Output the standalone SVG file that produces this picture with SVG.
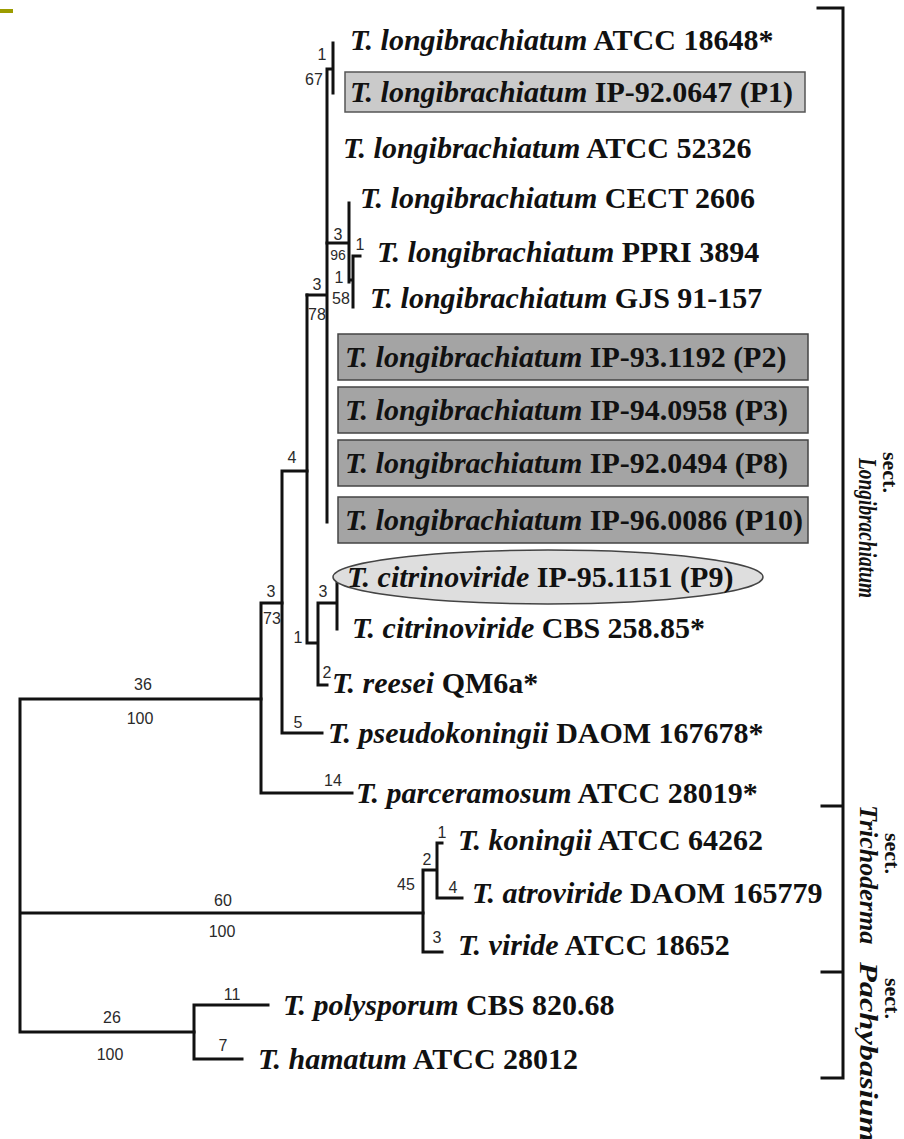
<svg xmlns="http://www.w3.org/2000/svg" width="904" height="1139" viewBox="0 0 904 1139">
<style>
.ln{fill:none;stroke:#111;stroke-width:3;stroke-linecap:square}
.lbl{font-family:"Liberation Serif","Times New Roman",serif;font-size:30px;font-weight:bold;fill:#111}
.it{font-style:italic}
.num{font-family:"Liberation Sans",Arial,sans-serif;font-size:16px;fill:#2a2a2a}
.sect{font-family:"Liberation Serif","Times New Roman",serif;font-size:26px;font-weight:bold;fill:#111}
.sw{font-size:22px}
.box1{fill:#cacaca;stroke:#555;stroke-width:1.5}
.box2{fill:#a4a4a4;stroke:#444;stroke-width:1.5}
.ell{fill:#dedede;stroke:#444;stroke-width:1.5}
</style>
<rect x="0" y="0" width="904" height="1139" fill="#ffffff"/>
<rect x="0" y="9" width="13" height="4" fill="#9c9c00"/>
<g id="connectors" class="ln">
<path d="M20,699 V1032 M20,699 H261 M20,913 H423 M20,1032 H194"/>
<path d="M261,603 V793 M261,793 H352 M261,603 H282"/>
<path d="M282,471 V733 M282,733 H322 M282,471 H307"/>
<path d="M307,295 V643 M307,643 H318 M318,603 V685 M318,685 H327 M318,603 H337 M337,577 V629"/>
<path d="M307,295 H327 M327,69 V522 M327,69 H333 M333,43 V93"/>
<path d="M327,243 H349 M349,203 V282 M349,280 H353 M353,256 V307 M353,256 H360"/>
<path d="M423,870 V952 M423,870 H437 M423,952 H442 M437,843 V898 M437,843 H442 M437,898 H462"/>
<path d="M194,1005 V1059 M194,1005 H268 M194,1059 H242"/>
</g>
<g id="branch-labels" class="num" text-anchor="middle">
<text x="322" y="60">1</text><text x="314" y="85">67</text>
<text x="338" y="240">3</text><text x="338" y="260" font-size="14">96</text>
<text x="360" y="250">1</text>
<text x="339" y="283">1</text><text x="341" y="304">58</text>
<text x="317" y="290">3</text><text x="317" y="320">78</text>
<text x="292" y="463">4</text>
<text x="271" y="597">3</text><text x="272" y="624">73</text>
<text x="323" y="597">3</text>
<text x="298" y="643">1</text>
<text x="327" y="678">2</text>
<text x="298" y="728">5</text>
<text x="333" y="786">14</text>
<text x="143" y="690">36</text><text x="140" y="724">100</text>
<text x="223" y="906">60</text><text x="222" y="937">100</text>
<text x="112" y="1023">26</text><text x="110" y="1060">100</text>
<text x="232" y="1000">11</text><text x="223" y="1051">7</text>
<text x="442" y="838">1</text><text x="427" y="865">2</text>
<text x="406" y="890">45</text><text x="453" y="893">4</text>
<text x="437" y="943">3</text>
</g>
<g id="leaf-atcc18648"><text class="lbl" x="350" y="50"><tspan class="it">T. longibrachiatum</tspan> ATCC 18648*</text></g>
<g id="leaf-p1"><rect class="box1" x="345" y="72" width="460" height="40"/><text class="lbl" x="350" y="102"><tspan class="it">T. longibrachiatum</tspan> IP-92.0647 (P1)</text></g>
<g id="leaf-atcc52326"><text class="lbl" x="343" y="158"><tspan class="it">T. longibrachiatum</tspan> ATCC 52326</text></g>
<g id="leaf-cect2606"><text class="lbl" x="360" y="208"><tspan class="it">T. longibrachiatum</tspan> CECT 2606</text></g>
<g id="leaf-ppri3894"><text class="lbl" x="377" y="262"><tspan class="it">T. longibrachiatum</tspan> PPRI 3894</text></g>
<g id="leaf-gjs91157"><text class="lbl" x="370" y="308"><tspan class="it">T. longibrachiatum</tspan> GJS 91-157</text></g>
<g id="leaf-p2"><rect class="box2" x="338" y="334" width="470" height="46"/><text class="lbl" x="345" y="367"><tspan class="it">T. longibrachiatum</tspan> IP-93.1192 (P2)</text></g>
<g id="leaf-p3"><rect class="box2" x="338" y="387" width="470" height="46"/><text class="lbl" x="345" y="420"><tspan class="it">T. longibrachiatum</tspan> IP-94.0958 (P3)</text></g>
<g id="leaf-p8"><rect class="box2" x="338" y="440" width="470" height="46"/><text class="lbl" x="345" y="473"><tspan class="it">T. longibrachiatum</tspan> IP-92.0494 (P8)</text></g>
<g id="leaf-p10"><rect class="box2" x="338" y="497" width="470" height="46"/><text class="lbl" x="345" y="530"><tspan class="it">T. longibrachiatum</tspan> IP-96.0086 (P10)</text></g>
<g id="leaf-p9"><ellipse class="ell" cx="548" cy="577" rx="215" ry="27"/><text class="lbl" x="347" y="587"><tspan class="it">T. citrinoviride</tspan> IP-95.1151 (P9)</text></g>
<g id="leaf-cbs25885"><text class="lbl" x="352" y="638"><tspan class="it">T. citrinoviride</tspan> CBS 258.85*</text></g>
<g id="leaf-qm6a"><text class="lbl" x="332" y="693"><tspan class="it">T. reesei</tspan> QM6a*</text></g>
<g id="leaf-daom167678"><text class="lbl" x="328" y="743"><tspan class="it">T. pseudokoningii</tspan> DAOM 167678*</text></g>
<g id="leaf-atcc28019"><text class="lbl" x="356" y="803"><tspan class="it">T. parceramosum</tspan> ATCC 28019*</text></g>
<g id="leaf-atcc64262"><text class="lbl" x="458" y="850"><tspan class="it">T. koningii</tspan> ATCC 64262</text></g>
<g id="leaf-daom165779"><text class="lbl" x="472" y="903"><tspan class="it">T. atroviride</tspan> DAOM 165779</text></g>
<g id="leaf-atcc18652"><text class="lbl" x="458" y="955"><tspan class="it">T. viride</tspan> ATCC 18652</text></g>
<g id="leaf-cbs82068"><text class="lbl" x="283" y="1015"><tspan class="it">T. polysporum</tspan> CBS 820.68</text></g>
<g id="leaf-atcc28012"><text class="lbl" x="258" y="1069"><tspan class="it">T. hamatum</tspan> ATCC 28012</text></g>
<g id="sections">
<path class="ln" d="M818,8 H843 V1078 H822 M822,806 H843 M822,972 H843"/>
<text class="sect sw" transform="translate(883,452) rotate(90)">sect.</text>
<text class="sect it" transform="translate(859,458) rotate(90)" textLength="140" lengthAdjust="spacingAndGlyphs">Longibrachiatum</text>
<text class="sect sw" transform="translate(885,833) rotate(90)">sect.</text>
<text class="sect it" transform="translate(860,805) rotate(90)">Trichoderma</text>
<text class="sect sw" transform="translate(885,978) rotate(90)">sect.</text>
<text class="sect it" transform="translate(860,962) rotate(90)" textLength="180" lengthAdjust="spacingAndGlyphs">Pachybasium</text>
</g>
</svg>
